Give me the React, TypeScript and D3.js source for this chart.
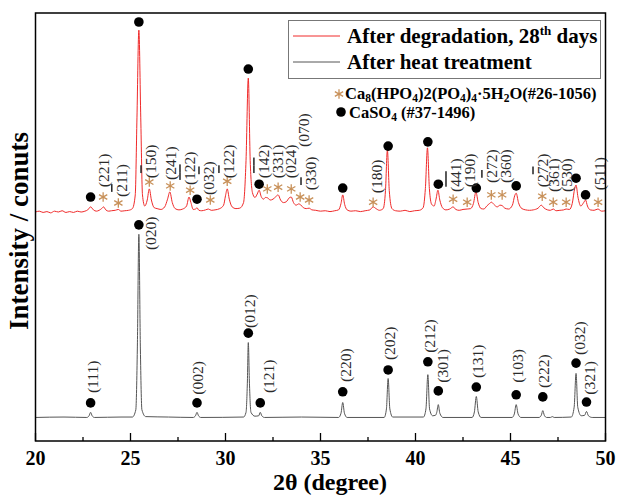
import React from "react";
import * as d3 from "d3";

// ---------- data ----------
const thetaDomain: [number, number] = [20, 50];
const intensityDomain: [number, number] = [0, 1000];
const xTickValues = [20, 25, 30, 35, 40, 45, 50];
const xMinorTickValues = [22.5, 27.5, 32.5, 37.5, 42.5, 47.5];

const seriesNames = ["After degradation, 28", "After heat treatment"];

// stacking offsets (intensity units)
const heatOffset = 55;
const degradationOffset = 535;

// After heat treatment: [2θ, relative intensity]
const heatTreatment: [number, number][] = [
  [20, 0], [21.5, 1], [22.7, 0], [22.82, 4], [22.9, 12], [22.98, 4], [23.1, 0],
  [24.5, 1], [25.1, 1], [25.28, 18], [25.36, 160], [25.44, 428], [25.52, 160], [25.6, 18], [25.8, 2],
  [27.0, 1], [28.3, 0], [28.42, 4], [28.5, 12], [28.58, 4], [28.7, 0],
  [30.95, 1], [31.08, 12], [31.15, 80], [31.2, 175], [31.26, 80], [31.34, 12], [31.55, 3],
  [31.75, 4], [31.83, 12], [31.91, 4], [32.05, 0], [34.0, 1],
  [35.95, 0], [36.08, 10], [36.17, 35], [36.26, 10], [36.4, 0],
  [38.35, 0], [38.47, 20], [38.56, 91], [38.65, 20], [38.8, 1],
  [40.42, 1], [40.55, 20], [40.65, 100], [40.74, 20], [40.9, 4], [41.05, 5], [41.12, 12],
  [41.2, 30], [41.28, 10], [41.45, 0],
  [42.98, 0], [43.1, 13], [43.2, 49], [43.3, 13], [43.45, 0],
  [45.08, 0], [45.2, 8], [45.3, 30], [45.4, 8], [45.55, 0],
  [46.5, 0], [46.62, 5], [46.7, 16], [46.78, 5], [46.9, 0], [47.1, 0], [47.2, 2], [47.3, 0],
  [48.2, 1], [48.35, 24], [48.45, 103], [48.54, 24], [48.72, 4], [48.9, 5], [49.0, 14],
  [49.1, 4], [49.3, 0], [50, 0],
];

// After degradation, 28th days: [2θ, relative intensity]
const afterDegradation: [number, number][] = [
  [20, 0], [20.2, 2], [20.4, -1], [20.6, 1], [20.8, -2], [21.0, 2], [21.2, 0], [21.4, 3],
  [21.6, -1], [21.8, 1], [22.0, -1], [22.2, 2], [22.4, 0], [22.6, 2],
  [22.75, 5], [22.9, 12], [23.05, 5], [23.2, 2], [23.35, 4],
  [23.48, 8], [23.58, 12], [23.7, 5], [23.85, 2], [24.0, 3],
  [24.2, 4], [24.36, 6], [24.5, 2], [24.7, 3], [24.9, 4], [25.1, 8],
  [25.25, 40], [25.34, 220], [25.44, 425], [25.54, 220], [25.63, 40], [25.75, 14],
  [25.88, 28], [25.99, 54], [26.1, 28], [26.25, 10], [26.4, 8], [26.6, 6], [26.8, 12],
  [26.95, 30], [27.07, 47], [27.2, 22], [27.35, 8], [27.55, 5], [27.75, 7], [27.95, 14],
  [28.08, 35], [28.18, 22], [28.3, 6], [28.42, 7], [28.5, 10], [28.6, 4], [28.75, 3],
  [28.95, 5], [29.1, 7], [29.25, 4], [29.45, 5], [29.7, 8], [29.9, 16],
  [30.0, 38], [30.09, 54], [30.2, 30], [30.35, 12], [30.55, 8], [30.75, 9], [30.95, 22],
  [31.08, 120], [31.2, 313], [31.3, 120], [31.42, 45], [31.55, 34], [31.67, 42], [31.77, 51],
  [31.88, 36], [32.0, 30], [32.1, 34], [32.22, 33], [32.35, 28], [32.5, 30],
  [32.65, 36], [32.77, 40], [32.9, 28], [33.05, 22], [33.2, 24], [33.35, 33], [33.46, 35],
  [33.58, 22], [33.72, 16], [33.85, 19], [33.95, 17], [34.1, 10], [34.25, 8], [34.4, 9],
  [34.55, 5], [34.75, 4], [35.0, 2], [35.25, 3], [35.5, 1], [35.75, 3], [35.95, 5],
  [36.08, 20], [36.17, 40], [36.27, 18], [36.4, 5], [36.6, 2], [36.85, 3], [37.1, 1],
  [37.35, 3], [37.6, 5], [37.77, 12], [37.92, 8], [38.1, 4], [38.3, 8],
  [38.42, 50], [38.52, 145], [38.62, 50], [38.76, 8], [38.95, 3], [39.2, 2], [39.45, 4],
  [39.7, 1], [39.95, 3], [40.2, 4], [40.4, 10],
  [40.52, 55], [40.63, 150], [40.73, 55], [40.85, 18], [40.98, 14], [41.08, 30], [41.18, 51],
  [41.28, 28], [41.42, 10], [41.6, 5], [41.8, 7], [41.98, 12], [42.12, 6], [42.3, 4],
  [42.5, 6], [42.72, 7], [42.9, 8], [43.05, 20],
  [43.18, 47], [43.3, 22], [43.45, 8], [43.6, 7], [43.75, 14], [43.9, 20], [44.0, 23],
  [44.12, 18], [44.3, 12], [44.45, 16], [44.56, 15], [44.7, 9], [44.9, 7], [45.1, 16],
  [45.22, 38], [45.3, 44], [45.42, 22], [45.6, 8], [45.8, 5], [46.0, 4], [46.2, 5],
  [46.45, 9], [46.62, 16], [46.75, 10], [46.95, 5], [47.1, 4], [47.25, 7], [47.4, 3],
  [47.6, 4], [47.8, 5], [47.93, 7], [48.1, 6], [48.25, 20],
  [48.38, 55], [48.45, 63], [48.55, 35], [48.7, 14], [48.85, 22], [48.95, 28], [49.05, 14],
  [49.2, 5], [49.4, 4], [49.6, 7], [49.8, 2], [50, 3],
];

// CaSO4 markers on heat-treated pattern [2θ, rel. intensity]
const heatCaSO4Dots: [number, number][] = [
  [22.9, 34], [25.44, 450], [28.5, 34], [31.2, 197], [31.83, 34], [36.17, 60],
  [38.56, 111], [40.65, 130], [41.2, 62], [43.2, 71], [45.3, 53], [46.7, 48],
  [48.45, 127], [49.0, 36],
];

// CaSO4 markers on degraded pattern
const degradationCaSO4Dots: [number, number][] = [
  [22.9, 35], [25.44, 444], [28.5, 30], [31.2, 334], [31.77, 65], [36.17, 56],
  [38.56, 154], [40.65, 164], [41.2, 65], [43.2, 56], [45.3, 61], [48.45, 79], [48.95, 40],
];

// Ca8(HPO4)2(PO4)4·5H2O markers on degraded pattern
const degradationOCPStars: [number, number][] = [
  [23.56, 35], [24.36, 21], [25.99, 70], [27.09, 61], [28.14, 51], [29.2, 28],
  [30.09, 72], [32.2, 54], [32.77, 58], [33.46, 54], [33.93, 35], [34.4, 28],
  [37.77, 23], [41.98, 30], [42.72, 23], [43.99, 40], [44.56, 40], [46.67, 37],
  [47.25, 23], [47.93, 23], [49.61, 23],
];

// "!" marks a digit written with an overbar (negative Miller index)
// [label, 2θ, rel. intensity of label start]
const degradationLabels: [string, number, number][] = [
  ["(221)", 23.56, 58],
  ["(!211)", 24.5, 35],
  ["(!150)", 26.04, 79],
  ["(241)", 27.09, 75],
  ["(!1!22)", 28.09, 63],
  ["(03!2)", 29.09, 40],
  ["(!122)", 30.14, 79],
  ["(!1!42)", 31.98, 79],
  ["(331)", 32.72, 79],
  ["(024)", 33.41, 79],
  ["(070)", 34.09, 152],
  ["(!330)", 34.46, 51],
  ["(180)", 37.93, 44],
  ["(!4!41)", 42.09, 47],
  ["(190)", 42.83, 58],
  ["(!272)", 43.98, 68],
  ["(360)", 44.72, 68],
  ["(2!72)", 46.67, 58],
  ["(361)", 47.25, 47],
  ["(530)", 47.93, 47],
  ["(511)", 49.67, 51],
];

const heatLabels: [string, number, number][] = [
  ["(111)", 22.99, 57],
  ["(020)", 26.04, 391],
  ["(002)", 28.51, 53],
  ["(012)", 31.24, 209],
  ["(121)", 32.24, 57],
  ["(220)", 36.3, 83],
  ["(202)", 38.61, 134],
  ["(212)", 40.72, 151],
  ["(301)", 41.4, 81],
  ["(131)", 43.25, 92],
  ["(103)", 45.35, 81],
  ["(222)", 46.72, 69],
  ["(032)", 48.61, 146],
  ["(321)", 49.14, 53],
];

// ---------- style ----------
const W = 618;
const H = 495;
const M = { left: 35.5, right: 605.5, top: 13, bottom: 441 };
const SERIF = "'Liberation Serif', 'Times New Roman', Times, serif";
const RED = "#f02a2a";
const GREY = "#555555";
const TAN = "#c8915a";

function hklParts(t: string) {
  const parts: { s: string; bar: boolean }[] = [];
  for (let i = 0; i < t.length; i++) {
    if (t[i] === "!") {
      parts.push({ s: t[i + 1], bar: true });
      i++;
    } else parts.push({ s: t[i], bar: false });
  }
  return parts;
}

export default function App() {
  const x = d3.scaleLinear().domain(thetaDomain).range([M.left, M.right]);
  const y = d3.scaleLinear().domain(intensityDomain).range([M.bottom, M.top]);

  const heatLine = d3
    .line<[number, number]>()
    .x((d) => x(d[0]))
    .y((d) => y(d[1] + heatOffset))
    .curve(d3.curveMonotoneX);
  const degLine = d3
    .line<[number, number]>()
    .x((d) => x(d[0]))
    .y((d) => y(d[1] + degradationOffset))
    .curve(d3.curveMonotoneX);

  const star = d3.symbol().type(d3.symbolAsterisk).size(64)() || "";

  const label = (t: string, th: number, v: number, off: number, key: string) => (
    <text
      key={key}
      transform={`translate(${x(th)},${y(v + off)}) rotate(-90)`}
      dominantBaseline="central"
      textAnchor="start"
      fontFamily={SERIF}
      fontSize={15.5}
      fill="#2a2a2a"
    >
      {hklParts(t).map((p, i) =>
        p.bar ? (
          <tspan key={i} style={{ textDecoration: "overline" }}>
            {p.s}
          </tspan>
        ) : (
          <tspan key={i}>{p.s}</tspan>
        )
      )}
    </text>
  );

  return (
    <svg
      width={W}
      height={H}
      viewBox={`0 0 ${W} ${H}`}
      style={{ position: "absolute", left: 0, top: 0, background: "#fff" }}
    >
      <rect x={0} y={0} width={W} height={H} fill="#fff" />

      {/* traces */}
      <path d={degLine(afterDegradation) || ""} fill="none" stroke={RED} strokeWidth={1} />
      <path d={heatLine(heatTreatment) || ""} fill="none" stroke={GREY} strokeWidth={1} />

      {/* markers */}
      {heatCaSO4Dots.map((d, i) => (
        <circle key={"hd" + i} cx={x(d[0])} cy={y(d[1] + heatOffset)} r={4.8} fill="#000" />
      ))}
      {degradationCaSO4Dots.map((d, i) => (
        <circle key={"dd" + i} cx={x(d[0])} cy={y(d[1] + degradationOffset)} r={4.8} fill="#000" />
      ))}
      {degradationOCPStars.map((d, i) => (
        <path
          key={"ds" + i}
          d={star}
          transform={`translate(${x(d[0])},${y(d[1] + degradationOffset)})`}
          fill="none"
          stroke={TAN}
          strokeWidth={1.3}
        />
      ))}

      {/* hkl labels */}
      {degradationLabels.map((d, i) => label(d[0], d[1], d[2], degradationOffset, "dl" + i))}
      {heatLabels.map((d, i) => label(d[0], d[1], d[2], heatOffset, "hl" + i))}

      {/* frame */}
      <rect
        x={M.left}
        y={M.top}
        width={M.right - M.left}
        height={M.bottom - M.top}
        fill="none"
        stroke="#000"
        strokeWidth={1.5}
      />

      {/* x ticks */}
      {xTickValues.map((t) => (
        <g key={"t" + t}>
          <line x1={x(t)} x2={x(t)} y1={M.bottom} y2={M.bottom - 8} stroke="#000" strokeWidth={1.3} />
          <text
            x={x(t)}
            y={465}
            textAnchor="middle"
            fontFamily={SERIF}
            fontWeight="bold"
            fontSize={20}
            fill="#000"
          >
            {t}
          </text>
        </g>
      ))}
      {xMinorTickValues.map((t) => (
        <line key={"m" + t} x1={x(t)} x2={x(t)} y1={M.bottom} y2={M.bottom - 4} stroke="#000" strokeWidth={1.3} />
      ))}

      {/* axis titles */}
      <text
        x={330}
        y={490}
        textAnchor="middle"
        fontFamily={SERIF}
        fontWeight="bold"
        fontSize={24}
        fill="#000"
      >
        2θ (degree)
      </text>
      <text
        transform={`translate(28,231) rotate(-90)`}
        textAnchor="middle"
        fontFamily={SERIF}
        fontWeight="bold"
        fontSize={27}
        fill="#000"
      >
        Intensity / conuts
      </text>

      {/* legend */}
      <rect x={288.5} y={20.5} width={312} height={58} fill="#fff" stroke="#777" strokeWidth={1} />
      <line x1={293} x2={340} y1={36} y2={36} stroke={RED} strokeWidth={1} />
      <text x={347} y={43} fontFamily={SERIF} fontWeight="bold" fontSize={21} fill="#000">
        {seriesNames[0]}
        <tspan fontSize={13} dy={-8}>th</tspan>
        <tspan dy={8}> days</tspan>
      </text>
      <line x1={293} x2={340} y1={62} y2={62} stroke={GREY} strokeWidth={1} />
      <text x={347} y={69} fontFamily={SERIF} fontWeight="bold" fontSize={21} fill="#000">
        {seriesNames[1]}
      </text>

      <path d={star} transform="translate(339,94)" fill="none" stroke={TAN} strokeWidth={1.3} />
      <text x={345} y={99} fontFamily={SERIF} fontWeight="bold" fontSize={16.5} fill="#000">
        Ca<tspan fontSize={11.5} dy={3}>8</tspan>
        <tspan dy={-3}>(HPO</tspan>
        <tspan fontSize={11.5} dy={3}>4</tspan>
        <tspan dy={-3}>)2(PO</tspan>
        <tspan fontSize={11.5} dy={3}>4</tspan>
        <tspan dy={-3}>)</tspan>
        <tspan fontSize={11.5} dy={3}>4</tspan>
        <tspan dy={-3}>·5H</tspan>
        <tspan fontSize={11.5} dy={3}>2</tspan>
        <tspan dy={-3}>O(#26-1056)</tspan>
      </text>
      <circle cx={341} cy={112} r={4.8} fill="#000" />
      <text x={349} y={118} fontFamily={SERIF} fontWeight="bold" fontSize={16.5} fill="#000">
        CaSO<tspan fontSize={11.5} dy={3}>4</tspan>
        <tspan dy={-3}> (#37-1496)</tspan>
      </text>
    </svg>
  );
}
